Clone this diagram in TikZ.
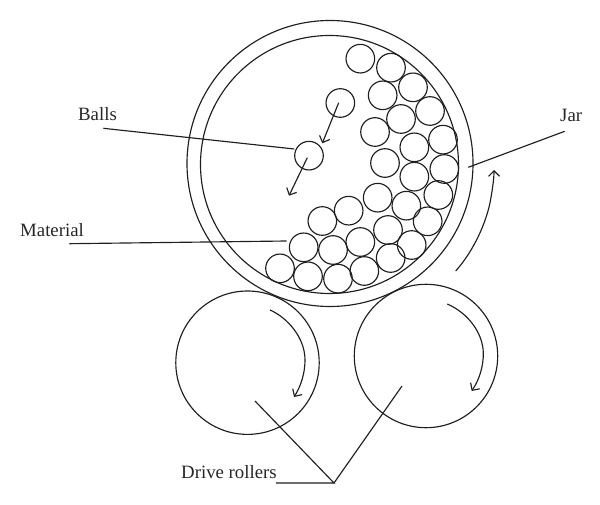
\documentclass[tikz,border=0pt]{standalone}
\usepackage{fontspec}
\setmainfont{Liberation Serif}
\usetikzlibrary{arrows.meta,calc}
\tikzset{
  ink/.style={draw=black!88,line width=1.15pt},
  ball/.style={circle,ink,minimum size=28.6pt,inner sep=0pt,outer sep=0pt},
  arr/.style={ink,-{Straight Barb[length=5.5pt,width=11pt,line width=1.15pt]}},
  lab/.style={inner sep=0pt,font=\fontsize{18.8}{20}\selectfont,text=black!85,anchor=base west},
}
\begin{document}
\begin{tikzpicture}[x=1pt,y=-1pt]
\useasboundingbox (0,0) rectangle (600,505);
\node[circle,ink,minimum size=286pt,inner sep=0pt,outer sep=0pt] (jarout) at (330,163.5) {};
\node[circle,ink,minimum size=258pt,inner sep=0pt,outer sep=0pt] (jarin) at (329.5,164.5) {};
\node[circle,ink,minimum size=143.4pt,inner sep=0pt,outer sep=0pt] (rollL) at (247.5,362.7) {};
\node[circle,ink,minimum size=143.4pt,inner sep=0pt,outer sep=0pt] (rollR) at (426,356) {};
\foreach \n/\x/\y in {a/301/86,b/393/113,c/459/172,d/368/196,e/510/243,f/423/267,g/345/306,h/549/329,i/463/352,j/375/399,k/553/417,l/463/440,m/353/503,n/535/495,o/439/527,p/503/574,q/266/542,r/187/573,s/384/600,t/455/645,u/131/652,v/219/660,w/301/636,x/392/684,y/60/715,z/144/739,aa/234/746,ab/313/723,fa/241/219,fb/147/377}
  \node[ball] (\n) at ({260+\x/3},{30+\y/3}) {};
% falling balls' arrows
\coordinate (t1s) at (338.7,102.7);
\coordinate (t1e) at (322.3,143.3);
\coordinate (t2s) at (307.3,157.7);
\coordinate (t2e) at (289,195.7);
\draw[arr] (t1s) -- (t1e);
\draw[arr] (t2s) -- (t2e);
% rotation arrows
\coordinate (rLa) at (270,310);
\coordinate (rLm) at (305,360);
\coordinate (rLb) at (294,397);
\coordinate (rRa) at (447.3,304);
\coordinate (rRm) at (483.3,353);
\coordinate (rRb) at (471.7,391);
\draw[arr] (rLa) .. controls (288,318) and (305,338) .. (rLm) .. controls (305,373) and (301,386) .. (rLb);
\draw[arr] (rRa) .. controls (468,313) and (483,333) .. (rRm) .. controls (483.5,367) and (479,380) .. (rRb);
\coordinate (jA) at (455.7,271);
\coordinate (jM) at (490,203);
\coordinate (jB) at (494,170);
\draw[arr] (jA) .. controls (470,255) and (484,230) .. (jM) .. controls (492,192) and (494,180) .. (jB);
% labels
\node[lab] (lBalls) at (78,120.7) {Balls};
\node[lab] (lMat) at (20,237) {Material};
\node[lab] (lJar) at (560,122) {Jar};
\node[lab] (lDrive) at (181,478) {Drive rollers};
% leaders
\coordinate (bS) at (103.3,128.3);
\coordinate (bE) at (294.3,149);
\coordinate (mS) at (69.3,243.7);
\coordinate (mE) at (286.7,241);
\coordinate (jS) at (468.3,167.3);
\coordinate (jE) at (564.7,131.3);
\coordinate (dS) at (276,483);
\coordinate (dM) at (334,483);
\coordinate (dL) at (255,401);
\coordinate (dR) at (402,386);
\draw[ink] (bS) -- (bE);
\draw[ink] (mS) -- (mE);
\draw[ink] (jS) -- (jE);
\draw[ink] (dS) -- (dM) -- (dL);
\draw[ink] (dM) -- (dR);
\end{tikzpicture}
\end{document}
